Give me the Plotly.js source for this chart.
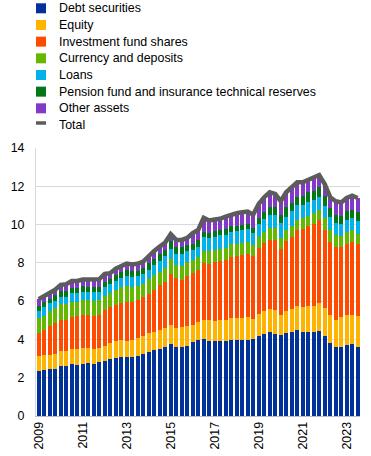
<!DOCTYPE html>
<html>
<head>
<meta charset="utf-8">
<script src="https://cdn.plot.ly/plotly-3.0.1.min.js"></script>
<style>html,body{margin:0;padding:0;background:#fff;}#chart{width:371px;height:456px;}</style>
</head>
<body>
<div id="chart"></div>
<script>
// Quarters 2009Q1 .. 2023Q3
var quarters = [];
for (var yr = 2009; yr <= 2023; yr++) {
  for (var q = 1; q <= 4; q++) {
    if (yr === 2023 && q === 4) break;
    quarters.push(yr + "Q" + q);
  }
}
var tickYears = ["2009","2011","2013","2015","2017","2019","2021","2023"];

var seriesNames = ["Debt securities","Equity","Investment fund shares","Currency and deposits","Loans","Pension fund and insurance technical reserves","Other assets"];
var seriesColors = ["#003299","#FFB400","#FF4B00","#65B800","#00B1EA","#007816","#8139C6"];
var totalName = "Total";
var totalColor = "#5C5C5C";

var debt = [2.36,2.40,2.45,2.47,2.62,2.63,2.72,2.68,2.72,2.78, 2.73,2.80,2.88,2.98,3.03,3.08,3.08,3.08,3.14,3.24, 3.34,3.45,3.52,3.58,3.77,3.62,3.62,3.67,3.86,3.95, 4.03,3.90,3.90,3.90,3.90,3.95,3.95,3.95,3.95,4.00, 4.16,4.26,4.37,4.30,4.21,4.31,4.41,4.47,4.37,4.37, 4.37,4.42,4.16,3.80,3.63,3.63,3.69,3.74,3.63];
var equity = [0.79,0.80,0.75,0.78,0.80,0.79,0.80,0.80,0.84,0.78, 0.79,0.75,0.80,0.84,0.90,0.87,0.84,0.87,0.91,0.96, 0.97,0.92,0.98,1.02,0.96,0.96,1.01,1.01,0.92,0.95, 1.00,1.09,1.04,1.09,1.12,1.15,1.15,1.18,1.21,1.09, 1.19,1.24,1.20,1.23,1.09,1.15,1.16,1.27,1.32,1.36, 1.37,1.46,1.46,1.46,1.41,1.54,1.59,1.56,1.58];
var fundShares = [1.16,1.31,1.51,1.62,1.62,1.62,1.66,1.74,1.74,1.72, 1.73,1.75,1.84,1.90,1.87,1.93,2.03,1.98,2.00,2.00, 2.07,2.23,2.32,2.40,2.70,2.62,2.49,2.62,2.68,2.73, 2.95,2.96,3.08,3.13,3.15,3.23,3.28,3.30,3.31,3.26, 3.42,3.53,3.63,3.67,3.40,3.67,3.77,3.98,4.08,4.18, 4.29,4.36,4.12,3.85,3.78,3.65,3.71,3.81,3.78];
var deposits = [0.80,0.74,0.75,0.76,0.82,0.79,0.77,0.76,0.75,0.77, 0.78,0.76,0.76,0.73,0.76,0.85,0.83,0.80,0.75,0.72, 0.77,0.74,0.68,0.74,0.77,0.71,0.74,0.73,0.70,0.70, 0.66,0.69,0.66,0.61,0.60,0.63,0.61,0.61,0.61,0.59, 0.57,0.57,0.61,0.63,0.60,0.59,0.61,0.54,0.58,0.56, 0.56,0.53,0.59,0.61,0.61,0.57,0.61,0.61,0.52];
var loans = [0.40,0.47,0.44,0.40,0.38,0.41,0.47,0.44,0.42,0.42, 0.43,0.42,0.48,0.47,0.49,0.49,0.52,0.52,0.50,0.50, 0.50,0.56,0.60,0.61,0.55,0.57,0.59,0.57,0.52,0.52, 0.70,0.66,0.69,0.70,0.69,0.67,0.70,0.68,0.69,0.63, 0.69,0.70,0.71,0.69,0.77,0.70,0.75,0.77,0.69,0.73, 0.71,0.69,0.66,0.66,0.64,0.64,0.66,0.61,0.70];
var pension = [0.26,0.23,0.22,0.27,0.28,0.28,0.26,0.26,0.30,0.28, 0.28,0.28,0.26,0.26,0.30,0.28,0.32,0.30,0.30,0.30, 0.33,0.32,0.35,0.33,0.40,0.34,0.37,0.35,0.31,0.35, 0.28,0.27,0.32,0.29,0.31,0.27,0.26,0.28,0.26,0.26, 0.32,0.34,0.42,0.42,0.43,0.48,0.41,0.43,0.47,0.49, 0.47,0.49,0.49,0.47,0.45,0.44,0.47,0.44,0.47];
var otherAssets = [0.33,0.33,0.33,0.30,0.33,0.36,0.37,0.37,0.36,0.38, 0.38,0.38,0.40,0.28,0.34,0.31,0.34,0.36,0.35,0.35, 0.38,0.40,0.40,0.38,0.35,0.38,0.38,0.35,0.56,0.52, 0.73,0.64,0.57,0.58,0.65,0.62,0.64,0.64,0.65,0.69, 0.73,0.79,0.75,0.66,0.72,0.79,0.84,0.75,0.70,0.64, 0.66,0.64,0.64,0.58,0.70,0.68,0.66,0.74,0.71];
var total = [6.10,6.28,6.45,6.60,6.85,6.88,7.05,7.05,7.13,7.13, 7.12,7.14,7.42,7.46,7.69,7.81,7.96,7.91,7.95,8.07, 8.36,8.62,8.85,9.06,9.50,9.20,9.20,9.30,9.55,9.72, 10.35,10.21,10.26,10.30,10.42,10.52,10.59,10.64,10.68,10.52, 11.08,11.43,11.69,11.60,11.22,11.69,11.95,12.21,12.21,12.33, 12.43,12.59,12.12,11.43,11.22,11.15,11.39,11.51,11.39];

var seriesValues = [debt, equity, fundShares, deposits, loans, pension, otherAssets];

var FONT = "Liberation Sans, Arial, sans-serif";
var W = 371, H = 456;
var M = {l: 36, r: 11, t: 148, b: 40};
var plotW = W - M.l - M.r, plotH = H - M.t - M.b;
function px2x(p) { return (p - M.l) / plotW; }
function py2y(p) { return 1 + (M.t - p) / plotH; }

var traces = [];
for (var i = 0; i < seriesNames.length; i++) {
  traces.push({
    type: "bar", x: quarters, y: seriesValues[i], name: seriesNames[i],
    marker: {color: seriesColors[i], line: {width: 0}},
    hoverinfo: "skip"
  });
}
traces.push({
  type: "scatter", mode: "lines", x: quarters, y: total, name: totalName,
  line: {color: totalColor, width: 4.5, shape: "linear"}, hoverinfo: "skip"
});

// custom legend
var annotations = [], shapes = [];
var legendNames = seriesNames.concat([totalName]);
for (var k = 0; k < legendNames.length; k++) {
  var yc = 8.3 + 16.67 * k;
  annotations.push({
    xref: "paper", yref: "paper", x: px2x(57), y: py2y(yc),
    xanchor: "left", yanchor: "middle", showarrow: false,
    text: legendNames[k], font: {family: FONT, size: 12.4, color: "#000"}
  });
  if (k < seriesNames.length) {
    shapes.push({type: "rect", xref: "paper", yref: "paper",
      x0: px2x(36), x1: px2x(46), y0: py2y(yc + 5), y1: py2y(yc - 5),
      fillcolor: seriesColors[k], line: {width: 0}});
  } else {
    shapes.push({type: "line", xref: "paper", yref: "paper",
      x0: px2x(36), x1: px2x(46), y0: py2y(yc - 2), y1: py2y(yc - 2),
      line: {color: totalColor, width: 3.5}});
  }
}

var tickvals = tickYears.map(function (y) { return y + "Q1"; });

var layout = {
  width: W, height: H,
  margin: {l: M.l, r: M.r, t: M.t, b: M.b, pad: 0},
  paper_bgcolor: "#fff", plot_bgcolor: "#fff",
  barmode: "stack", bargap: 0.27,
  showlegend: false,
  font: {family: FONT, size: 12, color: "#000"},
  xaxis: {
    type: "category", range: [-0.49, 58.42],
    tickmode: "array", tickvals: tickvals, ticktext: tickYears,
    tickangle: -90, ticks: "", showgrid: false,
    showline: true, linecolor: "#bfbfbf", linewidth: 1,
    tickfont: {family: FONT, size: 12.4, color: "#000"}, fixedrange: true
  },
  yaxis: {
    range: [0, 14], dtick: 2, tick0: 0,
    showgrid: true, gridcolor: "#d9d9d9", gridwidth: 1,
    showline: true, linecolor: "#d9d9d9", linewidth: 1,
    zeroline: false, ticks: "", ticklabelstandoff: 8,
    tickfont: {family: FONT, size: 12.4, color: "#000"}, fixedrange: true
  },
  annotations: annotations,
  shapes: shapes
};

Plotly.newPlot("chart", traces, layout, {staticPlot: true, displayModeBar: false});
</script>
</body>
</html>
